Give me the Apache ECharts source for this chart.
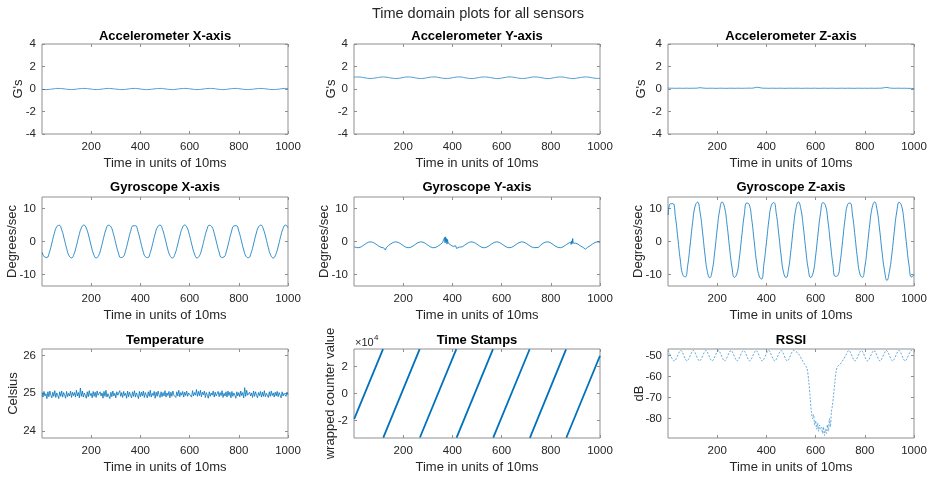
<!DOCTYPE html>
<html>
<head>
<meta charset="utf-8">
<script src="https://cdn.jsdelivr.net/npm/echarts@6/dist/echarts.min.js"></script>
<style>
  html, body { margin: 0; padding: 0; background: #ffffff; }
  #chart { width: 934px; height: 478px; }
</style>
</head>
<body>
<div id="chart"></div>
<script>
// ---- sample indices (units of 10 ms) ----
const sampleIdx = [1,10,20,30,40,50,60,70,80,90,100,110,120,130,140,150,160,170,180,190,200,210,220,230,240,250,260,270,280,290,300,310,320,330,340,350,360,370,380,390,400,410,420,430,440,450,460,470,480,490,500,510,520,530,540,550,560,570,580,590,600,610,620,630,640,650,660,670,680,690,700,710,720,730,740,750,760,770,780,790,800,810,820,830,840,850,860,870,880,890,900,910,920,930,940,950,960,970,980,990,1000];

// ---- accelerometer (G's) ----
const accelX = [-0.03,-0.05,-0.05,-0.03,-0.01,0.02,0.05,0.05,0.04,0.01,
  -0.02,-0.04,-0.05,-0.04,-0.01,0.02,0.04,0.05,0.04,0.02,
  -0.01,-0.04,-0.05,-0.04,-0.02,0.01,0.04,0.05,0.04,0.02,
  -0.01,-0.03,-0.05,-0.05,-0.03,0.0,0.03,0.05,0.05,0.03,
  0.0,-0.03,-0.05,-0.05,-0.03,-0.01,0.02,0.04,0.05,0.04,
  0.01,-0.02,-0.04,-0.05,-0.04,-0.01,0.02,0.04,0.05,0.04,
  0.02,-0.01,-0.04,-0.05,-0.04,-0.02,0.01,0.04,0.05,0.05,
  0.03,0.0,-0.03,-0.05,-0.05,-0.03,0.0,0.03,0.05,0.05,
  0.03,0.0,-0.03,-0.05,-0.05,-0.03,-0.01,0.02,0.04,0.05,
  0.04,0.01,-0.02,-0.04,-0.05,-0.04,-0.02,0.01,0.04,0.05,
  0.04];
const accelY = [1.05,1.07,1.07,1.05,1.01,0.97,0.94,0.94,0.96,0.99,
  1.03,1.06,1.07,1.05,1.02,0.98,0.95,0.93,0.95,0.98,
  1.02,1.06,1.07,1.06,1.03,0.99,0.95,0.93,0.94,0.97,
  1.01,1.05,1.07,1.07,1.04,1.0,0.96,0.94,0.94,0.96,
  1.0,1.04,1.07,1.07,1.05,1.01,0.97,0.94,0.93,0.95,
  0.99,1.03,1.06,1.07,1.06,1.03,0.99,0.95,0.93,0.94,
  0.97,1.01,1.05,1.07,1.07,1.04,1.0,0.96,0.94,0.94,
  0.96,1.0,1.04,1.07,1.07,1.05,1.01,0.97,0.94,0.93,
  0.95,0.99,1.03,1.06,1.07,1.06,1.02,0.98,0.95,0.93,
  0.95,0.98,1.02,1.05,1.07,1.06,1.03,0.99,0.96,0.94,
  0.94];
const accelZ = [0.08,0.07,0.07,0.06,0.07,0.07,0.06,0.07,0.07,0.06,
  0.07,0.07,0.08,0.12,0.09,0.07,0.06,0.07,0.07,0.06,
  0.06,0.07,0.07,0.06,0.06,0.07,0.07,0.06,0.07,0.07,
  0.06,0.07,0.07,0.08,0.07,0.10,0.16,0.13,0.09,0.07,
  0.07,0.06,0.07,0.07,0.06,0.07,0.07,0.06,0.06,0.07,
  0.07,0.06,0.07,0.07,0.06,0.06,0.07,0.07,0.06,0.07,
  0.07,0.06,0.06,0.07,0.07,0.06,0.07,0.07,0.06,0.06,
  0.07,0.07,0.06,0.07,0.07,0.06,0.06,0.07,0.07,0.06,
  0.07,0.06,0.07,0.07,0.06,0.07,0.07,0.08,0.12,0.15,
  0.09,0.07,0.06,0.07,0.07,0.06,0.07,0.06,0.06,0.05,
  0.04];

// ---- gyroscope (degrees/sec) ----
const gyroX = [-3.3,-4.67,-4.85,-3.27,-0.51,2.45,4.51,4.93,3.56,0.90,
  -2.09,-4.32,-4.98,-3.83,-1.29,1.73,4.11,5.0,4.07,1.67,
  -1.34,-3.87,-4.99,-4.29,-2.03,0.96,3.61,4.94,4.48,2.39,
  -0.57,-3.32,-4.87,-4.64,-2.73,0.17,3.01,4.76,4.78,3.06,
  0.23,-2.69,-4.62,-4.88,-3.37,-0.63,2.34,4.46,4.95,3.65,
  1.01,-1.98,-4.26,-4.99,-3.91,-1.40,1.61,4.04,5.0,4.15,
  1.78,-1.23,-3.79,-4.98,-4.35,-2.14,0.84,3.52,4.92,4.54,
  2.5,-0.44,-3.23,-4.84,-4.69,-2.84,0.04,2.91,4.72,4.81,
  3.15,0.36,-2.58,-4.57,-4.90,-3.45,-0.76,2.22,4.39,4.97,
  3.74,1.15,-1.86,-4.19,-5.0,-3.99,-1.53,1.48,3.96,4.99,
  4.22];
const gyroYIdx = [1,10,20,30,40,50,60,70,80,90,100,110,115,120,123,126,128,131,133,136,140,
  150,160,170,180,190,200,210,220,230,240,250,260,270,280,285,290,295,300,
  310,320,330,340,350,356,360,362,364,366,368,370,372,374,376,378,380,383,386,388,391,394,398,
  400,403,406,410,413,417,420,424,428,430,440,450,460,470,480,490,500,
  510,520,530,540,550,560,570,580,590,600,610,620,630,640,650,660,670,680,690,700,
  710,720,730,734,738,740,742,746,750,755,760,770,780,790,800,810,820,830,840,850,860,870,
  880,883,885,887,889,891,893,896,900,910,920,930,932,935,938,941,944,948,950,960,970,980,990,1000];
const gyroY = [-1.59,-1.84,-1.87,-1.59,-1.09,-0.56,-0.19,-0.11,-0.36,-0.84,-1.38,-1.78,-2.0,-1.9,-2.3,-1.7,-2.6,-1.9,-2.4,-1.6,-1.23,
  -0.69,-0.26,-0.1,-0.27,-0.7,-1.24,-1.7,-1.9,-1.77,-1.37,-0.83,-0.35,-0.11,-0.19,-0.45,-0.57,-0.95,-1.1,
  -1.6,-1.88,-1.84,-1.49,-0.97,-0.7,-0.3,-0.9,0.2,-0.6,1.2,-0.4,1.4,-0.2,0.9,-0.8,0.6,-0.5,-0.1,-1.0,-0.3,-1.1,-0.6,
  -1.2,-1.5,-1.0,-1.8,-1.3,-2.1,-1.6,-2.0,-1.7,-1.88,-1.61,-1.11,-0.58,-0.2,-0.11,-0.34,-0.82,
  -1.36,-1.77,-1.9,-1.7,-1.25,-0.71,-0.27,-0.1,-0.25,-0.68,-1.22,-1.68,-1.9,-1.78,-1.39,-0.85,-0.37,-0.11,-0.18,-0.55,
  -1.08,-1.58,-1.87,-2.1,-1.6,-1.84,-2.2,-1.5,-1.8,-1.3,-0.99,-0.48,-0.15,-0.13,-0.43,-0.94,-1.46,-1.82,-1.88,-1.62,-1.14,-0.6,
  -0.21,-0.9,0.2,-0.6,0.9,-0.5,-0.1,-0.9,-0.5,-0.79,-1.33,-1.75,-1.5,-2.2,-1.6,-2.3,-1.7,-2.1,-1.72,-1.28,-0.73,-0.29,-0.1,-0.24];
const gyroZ = [8.06,11.47,11.47,7.52,1.02,-5.65,-10.11,-10.74,-7.31,-1.08,
  5.74,10.65,11.92,9.06,3.11,-3.77,-9.13,-11.0,-8.72,-3.13,
  3.79,9.5,11.98,10.32,5.1,-1.75,-7.81,-10.87,-9.82,-5.04,
  1.72,8.07,11.66,11.24,6.94,0.32,-6.23,-10.36,-11.4,-6.78,
  -0.39,6.35,10.97,11.8,8.57,2.42,-4.41,-9.49,-10.95,-8.29,
  -2.46,4.46,9.92,12.0,9.93,4.46,-2.43,-8.29,-10.95,-9.49,
  -4.43,2.42,8.56,11.8,10.98,6.35,-0.36,-6.78,-10.56,-10.36,
  -6.24,0.32,6.93,11.24,11.67,8.06,1.74,-5.04,-9.8,-10.87,
  -7.83,-1.78,5.09,10.31,11.98,9.51,3.8,-3.11,-8.71,-11.8,
  -9.13,-3.79,3.09,9.05,11.91,10.67,5.76,-1.06,-7.3,-10.74,
  -10.11];

// ---- temperature (Celsius), one reading every 4 samples ----
const tempStep = 4;
const temperature = [25.02,24.90,25.05,24.93,24.99,24.86,25.04,24.91,25.06,24.95,
  24.88,25.03,24.92,25.07,24.89,25.01,24.94,24.86,25.04,24.92,
  25.06,24.90,25.02,24.95,24.87,25.05,24.91,25.00,24.93,25.06,
  24.89,25.03,24.94,25.02,24.90,25.08,24.93,25.02,24.88,25.14,
  24.92,25.06,24.90,25.01,24.95,24.87,25.04,24.91,25.07,24.94,
  25.00,24.88,25.05,24.92,25.03,24.89,25.06,24.95,24.90,25.04,
  24.93,25.01,24.87,25.05,24.92,25.08,24.90,24.99,24.94,24.86,
  25.03,24.91,25.06,24.93,25.00,24.88,25.04,24.95,24.90,25.07,
  24.92,25.02,24.89,25.05,24.94,25.00,24.87,25.06,24.91,25.03,
  24.95,24.88,25.04,24.92,25.07,24.90,25.01,24.94,24.86,25.05,
  24.91,25.03,24.93,25.06,24.89,25.02,24.95,24.88,25.04,24.92,
  25.08,24.90,25.00,24.94,25.05,24.87,25.03,24.92,25.06,24.95,
  24.89,25.04,24.91,25.02,24.93,25.07,24.90,25.01,24.94,25.05,
  24.88,25.03,24.92,25.06,24.95,25.00,24.89,25.04,24.93,25.08,
  24.91,25.02,24.95,25.05,24.90,25.03,24.94,25.06,24.92,25.01,
  24.96,25.04,24.90,25.07,24.93,25.02,24.95,25.10,24.92,25.05,
  24.94,25.08,24.91,25.03,24.96,25.06,24.89,25.02,24.95,24.87,
  25.04,24.92,25.01,24.95,25.06,24.90,25.03,24.93,24.88,25.05,
  24.91,25.02,24.94,25.07,24.89,25.00,24.93,25.04,24.90,25.06,
  24.94,25.03,24.88,25.05,24.92,25.01,24.95,24.87,25.04,24.93,
  25.02,24.91,25.06,24.94,25.02,24.88,25.15,24.92,25.08,24.95,
  24.90,25.03,24.93,25.01,24.89,25.06,24.92,25.04,24.95,24.88,
  25.02,24.94,25.05,24.90,25.03,24.92,25.07,24.91,25.00,24.95,
  24.89,25.04,24.92,25.06,24.94,25.01,24.90,25.03,24.93,25.05,
  24.91,25.02,24.95,24.88,25.04,24.93,25.00,24.96,24.92,25.03,
  24.96];

// ---- wrapped 16-bit time stamp counter (null = wrap point) ----
const stampIdx = [1,118,118.5,119,267,267.5,268,416,416.5,417,565,565.5,566,714,714.5,715,862,862.5,863,1000];
const stampVal = [-18700,32650,null,-32500,32700,null,-32400,32650,null,-32500,32700,null,-32450,32600,null,-32650,32550,null,-32600,27800];

// ---- RSSI (dB) ----
const rssiIdx = [1,26,52,77,103,128,154,179,205,230,256,281,307,332,358,383,409,434,460,485,511,530,545,555,565,572,578,583,588,592,596,600,604,608,612,616,620,624,628,632,636,640,644,648,652,656,660,664,668,672,678,684,690,700,712,722,735,760,786,811,837,862,888,913,939,964,990,1000];
const rssi = [-47.5,-52.5,-47.5,-52.5,-47.5,-52.5,-47.5,-52.5,-47.5,-52.5,-47.5,-52.5,-47.5,-52.5,-47.5,-52.5,-47.5,-52.5,-47.5,-52.5,-47.5,-49,-52,-54,-56,-62,-70,-77,-80,-78,-83,-81,-85,-82,-86,-83,-85,-84,-87,-84,-88,-85,-87,-83,-86,-80,-84,-77,-74,-70,-63,-57,-55,-54,-52,-50,-47.5,-52.5,-47.5,-52.5,-47.5,-52.5,-47.5,-52.5,-47.5,-52.5,-47.5,-48.5];

const timeTicks = [200, 400, 600, 800, 1000];
const FONT = '"Liberation Sans", Arial, Helvetica, sans-serif';
const BLUE = '#0072BD';

function pairs(idx, vals) {
  return idx.map((x, i) => [x, vals[i] == null ? '-' : vals[i]]);
}

const panels = [
  { title: 'Accelerometer X-axis', yName: "G's", min: -4, max: 4, ticks: [-4,-2,0,2,4], gap: 17,
    data: pairs(sampleIdx, accelX), width: 0.7, smooth: true },
  { title: 'Accelerometer Y-axis', yName: "G's", min: -4, max: 4, ticks: [-4,-2,0,2,4], gap: 16,
    data: pairs(sampleIdx, accelY), width: 0.7, smooth: true },
  { title: 'Accelerometer Z-axis', yName: "G's", min: -4, max: 4, ticks: [-4,-2,0,2,4], gap: 20,
    data: pairs(sampleIdx, accelZ), width: 0.7, smooth: false },
  { title: 'Gyroscope X-axis', yName: 'Degrees/sec', min: -13.5, max: 13.5, ticks: [-10,0,10], gap: 23,
    data: pairs(sampleIdx, gyroX), width: 0.8, smooth: true },
  { title: 'Gyroscope Y-axis', yName: 'Degrees/sec', min: -13.5, max: 13.5, ticks: [-10,0,10], gap: 23,
    data: pairs(gyroYIdx, gyroY), width: 0.8, smooth: false },
  { title: 'Gyroscope Z-axis', yName: 'Degrees/sec', min: -13.5, max: 13.5, ticks: [-10,0,10], gap: 23,
    data: pairs(sampleIdx, gyroZ), width: 0.8, smooth: true },
  { title: 'Temperature', yName: 'Celsius', min: 23.82, max: 26.17, ticks: [24,25,26], gap: 22,
    data: temperature.map((v, i) => [Math.max(1, i * tempStep), v]), width: 0.8, smooth: false },
  { title: 'Time Stamps', yName: 'wrapped counter value', min: -32768, max: 32767, ticks: [-20000,0,20000], gap: 17,
    data: pairs(stampIdx, stampVal), width: 1.8, smooth: false, fmt: v => String(v / 10000) },
  { title: 'RSSI', yName: 'dB', min: -89.2, max: -46.8, ticks: [-80,-70,-60,-50], gap: 22,
    data: pairs(rssiIdx, rssi), width: 0.8, smooth: 0.3, dash: [2, 1.5], opacity: 0.75 }
];

const colLeft = [42, 354, 668];
const plotW = 246;
const rowTop = [44, 197, 349];
const rowH = [90, 89, 89];
const titleTop = [30, 181, 334];
const AXIS_GRAY = '#8f8f8f';
const TEXT = '#262626';

const grids = [], xBottom = [], xTop = [], yLeft = [], yRight = [], series = [];
const titles = [{
  text: 'Time domain plots for all sensors', left: 478, top: 6, textAlign: 'center', padding: 0,
  textStyle: { fontFamily: FONT, fontSize: 14.5, fontWeight: 'normal', color: TEXT }
}];

panels.forEach((p, i) => {
  const col = i % 3, row = Math.floor(i / 3);
  grids.push({ left: colLeft[col], top: rowTop[row], width: plotW, height: rowH[row],
    show: true, borderColor: AXIS_GRAY, borderWidth: 1, backgroundColor: '#fff' });
  titles.push({ text: p.title, left: colLeft[col] + plotW / 2, top: titleTop[row], textAlign: 'center', padding: 0,
    textStyle: { fontFamily: FONT, fontSize: 13, fontWeight: 'bold', color: '#000' } });
  const xCommon = { gridIndex: i, type: 'value', min: 0, max: 1000, splitLine: { show: false },
    axisLine: { show: false, onZero: false },
    axisTick: { inside: true, length: 3, customValues: timeTicks, lineStyle: { color: AXIS_GRAY, width: 1 } } };
  xBottom.push(Object.assign({}, xCommon, { position: 'bottom',
    axisLabel: { customValues: timeTicks, margin: 7, fontFamily: FONT, fontSize: 11.5, color: TEXT,
      formatter: v => String(v) },
    name: 'Time in units of 10ms', nameLocation: 'middle', nameGap: 23, nameMoveOverlap: false,
    nameTextStyle: { fontFamily: FONT, fontSize: 13, color: TEXT } }));
  xTop.push(Object.assign({}, xCommon, { position: 'top', axisLabel: { show: false } }));
  const yCommon = { gridIndex: i, type: 'value', min: p.min, max: p.max, splitLine: { show: false },
    axisLine: { show: false, onZero: false },
    axisTick: { inside: true, length: 3, customValues: p.ticks, lineStyle: { color: AXIS_GRAY, width: 1 } } };
  yLeft.push(Object.assign({}, yCommon, { position: 'left',
    axisLabel: { customValues: p.ticks, margin: 6, fontFamily: FONT, fontSize: 11.5, color: TEXT,
      formatter: p.fmt || (v => String(v)) },
    name: p.yName, nameLocation: 'middle', nameRotate: 90, nameGap: p.gap, nameMoveOverlap: false,
    nameTextStyle: { fontFamily: FONT, fontSize: 13, color: TEXT } }));
  yRight.push(Object.assign({}, yCommon, { position: 'right', axisLabel: { show: false } }));
  series.push({ type: 'line', xAxisIndex: i, yAxisIndex: i, data: p.data, symbol: 'none', showSymbol: false,
    smooth: p.smooth, connectNulls: false, clip: true, silent: true,
    lineStyle: { color: BLUE, width: p.width, type: p.dash || 'solid', opacity: p.opacity || 1 } });
});

const chart = echarts.init(document.getElementById('chart'), null, { renderer: 'canvas' });
chart.setOption({
  animation: false,
  backgroundColor: '#ffffff',
  title: titles,
  grid: grids,
  xAxis: xBottom.concat(xTop),
  yAxis: yLeft.concat(yRight),
  series: series,
  graphic: [
    { type: 'text', left: 355, top: 337, silent: true,
      style: { text: '\u00d710', fontFamily: FONT, fontSize: 11, fill: TEXT } },
    { type: 'text', left: 374, top: 334, silent: true,
      style: { text: '4', fontFamily: FONT, fontSize: 8, fill: TEXT } }
  ]
});
</script>
</body>
</html>
